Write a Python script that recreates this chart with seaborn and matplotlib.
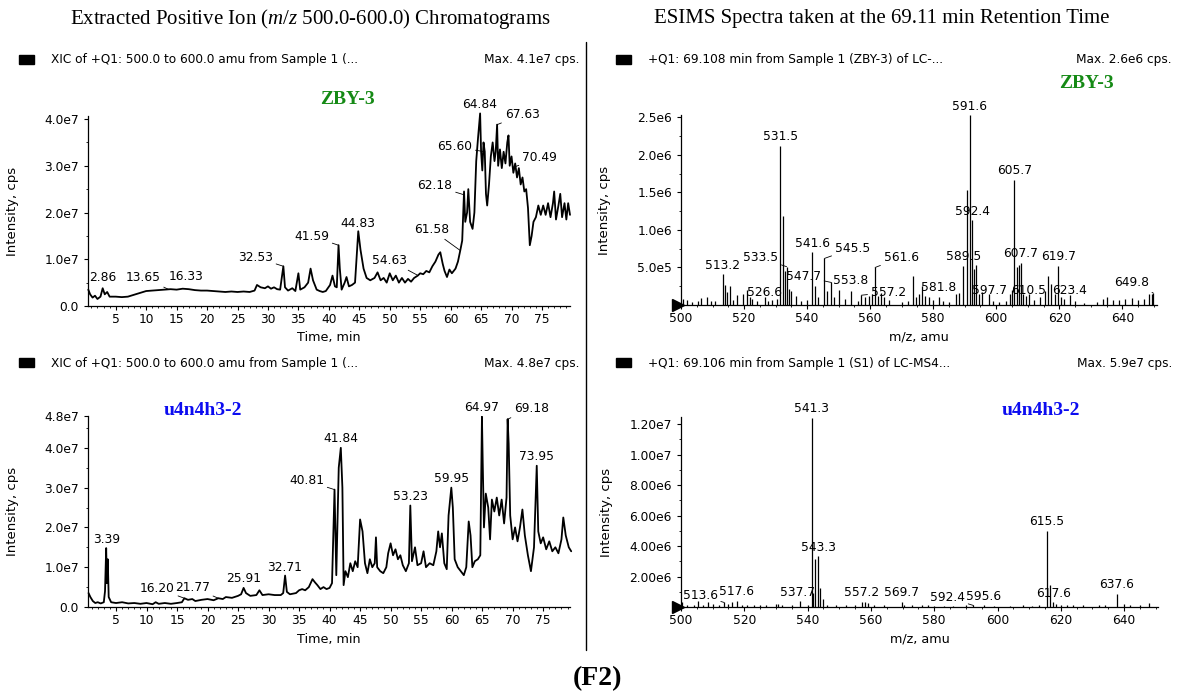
import numpy as np
import seaborn as sns
import matplotlib.pyplot as plt
from matplotlib.patches import Rectangle
from matplotlib.lines import Line2D
from matplotlib.ticker import MultipleLocator

# ---- data ----
# ZBY-3 XIC (time in min, intensity in 1e7 cps)
zby_time = [0.5, 0.8, 1.2, 1.6, 2.0, 2.5, 2.86, 3.2, 3.6, 4.0,
            5, 6, 7, 8, 9, 10, 11, 12, 13, 14,
            15, 16, 17, 18, 19, 20, 21, 22, 23, 24,
            25, 26, 27, 27.8, 28.2, 28.8, 29.5, 30, 30.5, 31,
            31.5, 32, 32.53, 32.8, 33.3, 34, 34.5, 35, 35.3, 36,
            36.6, 37, 37.4, 38, 38.5, 39, 39.5, 40.2, 40.6, 41,
            41.3, 41.59, 41.8, 42.1, 42.6, 42.9, 43.3, 43.8, 44.3, 44.83,
            45.2, 45.7, 46.2, 46.8, 47.5, 48, 48.5, 49, 49.5, 50,
            50.5, 51, 51.5, 52, 52.5, 53, 53.5, 54, 54.6, 55,
            55.5, 56, 56.5, 57, 57.5, 58, 58.3, 58.7, 59, 59.4,
            59.8, 60.2, 60.8, 61.2, 61.6, 61.9, 62.2, 62.4, 62.7, 62.9,
            63.2, 63.6, 63.9, 64.2, 64.5, 64.84, 65.0, 65.2, 65.4, 65.6,
            65.8, 66.0, 66.3, 66.6, 66.9, 67.2, 67.4, 67.63, 67.8, 68.1,
            68.4, 68.7, 69.0, 69.3, 69.5, 69.7, 70.0, 70.3, 70.6, 70.9,
            71.2, 71.5, 71.8, 72.1, 72.4, 72.7, 73.0, 73.3, 73.6, 74.0,
            74.4, 74.8, 75.2, 75.6, 76.0, 76.4, 76.8, 77.0, 77.3, 77.7,
            78.0, 78.3, 78.7, 79.0, 79.3, 79.6]
zby_xic = [0.35, 0.25, 0.18, 0.22, 0.15, 0.20, 0.38, 0.25, 0.30, 0.20,
           0.20, 0.19, 0.20, 0.24, 0.28, 0.32, 0.33, 0.34, 0.35, 0.36,
           0.35, 0.37, 0.36, 0.34, 0.33, 0.33, 0.32, 0.31, 0.30, 0.31,
           0.30, 0.31, 0.30, 0.33, 0.45, 0.40, 0.38, 0.42, 0.37, 0.40,
           0.36, 0.35, 0.85, 0.40, 0.33, 0.38, 0.32, 0.70, 0.35, 0.40,
           0.50, 0.80, 0.55, 0.35, 0.32, 0.30, 0.32, 0.45, 0.65, 0.42,
           0.40, 1.30, 0.80, 0.35, 0.50, 0.62, 0.42, 0.45, 0.50, 1.60,
           1.20, 0.80, 0.60, 0.55, 0.60, 0.72, 0.55, 0.60, 0.50, 0.70,
           0.55, 0.65, 0.50, 0.60, 0.50, 0.58, 0.52, 0.60, 0.65, 0.70,
           0.68, 0.75, 0.72, 0.85, 0.95, 1.10, 1.15, 0.90, 0.75, 0.62,
           0.78, 0.70, 0.80, 0.95, 1.20, 1.40, 2.45, 1.80, 2.00, 2.50,
           1.80, 1.65, 2.00, 3.10, 3.60, 4.12, 3.30, 2.90, 3.50, 3.30,
           2.40, 2.15, 2.60, 3.20, 3.50, 3.10, 3.30, 3.88, 3.00, 3.35,
           2.95, 3.30, 3.05, 3.50, 3.65, 3.00, 3.20, 2.85, 3.05, 2.75,
           2.95, 2.60, 2.75, 2.45, 2.50, 2.10, 1.30, 1.50, 1.80, 1.90,
           2.15, 1.95, 2.15, 1.95, 2.20, 1.90, 2.20, 2.45, 1.85, 2.15,
           2.40, 1.90, 2.20, 1.85, 2.20, 1.95]
zby_xic_peaks = ['2.86', '13.65', '16.33', '32.53', '41.59', '44.83', '54.63',
                 '61.58', '62.18', '65.60', '64.84', '67.63', '70.49']

# u4n4h3-2 XIC (time in min, intensity in 1e7 cps)
u4_time = [0.5, 0.8, 1.2, 1.6, 2.0, 2.5, 3.0, 3.2, 3.39, 3.5,
           3.65, 3.8, 4.2, 5, 6, 7, 8, 9, 10, 11,
           11.5, 12, 13, 14, 15, 15.8, 16.2, 16.8, 17.5, 18,
           19, 20, 21, 21.77, 22.5, 23, 24, 25, 25.5, 25.91,
           26.3, 27, 28, 28.5, 29, 30, 31, 32, 32.4, 32.71,
           33, 33.5, 34.5, 35, 35.5, 36, 36.6, 37.2, 37.6, 38,
           38.5, 39, 39.5, 40, 40.4, 40.81, 41.1, 41.5, 41.84, 42.1,
           42.3, 42.6, 43, 43.4, 43.8, 44.2, 44.6, 45, 45.4, 45.8,
           46.2, 46.6, 47.0, 47.4, 47.6, 47.8, 48.3, 48.8, 49.3, 49.6,
           50.0, 50.4, 50.8, 51.2, 51.6, 52.0, 52.5, 53.0, 53.23, 53.5,
           54.0, 54.4, 55.0, 55.4, 55.8, 56.4, 57.0, 57.5, 57.8, 58.1,
           58.4, 58.8, 59.2, 59.5, 59.95, 60.2, 60.5, 61.0, 61.5, 62.0,
           62.4, 62.8, 63.1, 63.4, 63.8, 64.3, 64.7, 64.97, 65.1, 65.3,
           65.6, 66.0, 66.3, 66.6, 67.0, 67.4, 67.8, 68.2, 68.6, 69.0,
           69.18, 69.35, 69.6, 70.0, 70.4, 70.8, 71.2, 71.6, 72.0, 72.5,
           73.0, 73.5, 73.95, 74.2, 74.6, 75.0, 75.5, 76.0, 76.5, 77.0,
           77.5, 78.0, 78.3, 78.7, 79.2, 79.6]
u4_xic = [0.35, 0.25, 0.15, 0.10, 0.12, 0.09, 0.12, 0.40, 1.48, 0.60,
          1.20, 0.25, 0.12, 0.10, 0.12, 0.09, 0.10, 0.08, 0.10, 0.07,
          0.12, 0.08, 0.10, 0.08, 0.10, 0.12, 0.22, 0.18, 0.20, 0.15,
          0.18, 0.20, 0.17, 0.22, 0.20, 0.25, 0.23, 0.28, 0.32, 0.48,
          0.35, 0.28, 0.30, 0.42, 0.30, 0.32, 0.30, 0.30, 0.35, 0.79,
          0.38, 0.32, 0.35, 0.42, 0.45, 0.42, 0.50, 0.70, 0.62, 0.55,
          0.45, 0.50, 0.45, 0.48, 0.60, 2.95, 0.80, 3.50, 4.00, 3.00,
          0.55, 0.90, 0.75, 1.10, 0.90, 1.15, 1.00, 2.20, 1.90, 1.10,
          0.85, 1.20, 1.00, 1.10, 1.75, 1.00, 0.90, 0.85, 1.00, 1.35,
          1.60, 1.30, 1.45, 1.20, 1.30, 1.05, 0.90, 1.10, 2.55, 1.15,
          1.50, 1.05, 1.10, 1.40, 1.00, 1.10, 1.05, 1.40, 1.90, 1.50,
          1.85, 1.10, 0.95, 2.30, 3.00, 2.50, 1.20, 1.00, 0.90, 0.80,
          1.00, 2.15, 1.80, 1.00, 1.15, 1.20, 1.30, 4.78, 3.60, 2.00,
          2.85, 2.50, 1.70, 2.70, 2.40, 2.75, 2.30, 2.70, 2.10, 2.75,
          4.72, 4.10, 2.30, 1.70, 2.00, 1.65, 2.00, 2.45, 1.80, 1.30,
          0.90, 1.50, 3.55, 1.90, 1.60, 1.75, 1.45, 1.65, 1.40, 1.50,
          1.35, 1.70, 2.25, 1.80, 1.50, 1.40]
u4_xic_peaks = ['3.39', '16.20', '21.77', '25.91', '32.71', '40.81', '41.84',
                '53.23', '59.95', '64.97', '69.18', '73.95']

# ZBY-3 spectrum at 69.11 min (m/z, intensity in 1e6 cps)
zby_mz = [500.6, 501.8, 503.5, 505.5, 506.2, 508.2, 509.5, 510.8, 513.2, 513.8,
          514.6, 515.4, 516.5, 517.8, 519.6, 520.8, 521.8, 522.6, 524.0, 526.6,
          527.5, 529.0, 530.5, 531.5, 532.3, 533.0, 533.5, 534.3, 535.0, 536.5,
          538.0, 540.0, 541.6, 542.5, 543.5, 545.5, 546.4, 547.7, 548.6, 550.0,
          552.0, 553.8, 556.0, 557.2, 558.4, 559.5, 560.6, 561.6, 562.5, 563.4,
          564.4, 566.0, 570.0, 572.0, 573.6, 574.6, 575.5, 576.6, 577.4, 578.6,
          580.0, 581.8, 583.0, 585.0, 587.2, 588.2, 589.5, 590.8, 591.6, 592.4,
          593.0, 593.7, 594.5, 595.5, 597.7, 599.0, 601.0, 603.0, 604.5, 605.1,
          605.7, 606.5, 607.2, 607.7, 608.5, 609.5, 610.5, 612.0, 614.0, 615.5,
          616.5, 617.5, 618.5, 619.7, 620.5, 621.5, 623.4, 625.0, 628.0, 632.0,
          634.0, 635.0, 637.0, 639.0, 641.0, 643.0, 645.0, 647.0, 648.5, 649.3,
          649.8]
zby_ms = [0.08, 0.07, 0.04, 0.05, 0.09, 0.11, 0.05, 0.05, 0.41, 0.27,
          0.17, 0.25, 0.06, 0.13, 0.15, 0.20, 0.10, 0.08, 0.05, 0.10,
          0.05, 0.06, 0.08, 2.12, 1.19, 0.45, 0.51, 0.21, 0.18, 0.12,
          0.05, 0.07, 0.70, 0.25, 0.10, 0.62, 0.18, 0.30, 0.10, 0.20,
          0.08, 0.18, 0.05, 0.13, 0.10, 0.12, 0.15, 0.50, 0.12, 0.16,
          0.10, 0.07, 0.04, 0.05, 0.38, 0.10, 0.15, 0.25, 0.12, 0.10,
          0.06, 0.11, 0.05, 0.04, 0.15, 0.16, 0.52, 1.53, 2.53, 1.13,
          0.48, 0.53, 0.15, 0.17, 0.15, 0.05, 0.04, 0.05, 0.15, 0.20,
          1.67, 0.50, 0.53, 0.56, 0.15, 0.12, 0.15, 0.07, 0.10, 0.18,
          0.38, 0.28, 0.15, 0.52, 0.10, 0.08, 0.13, 0.05, 0.03, 0.04,
          0.08, 0.10, 0.06, 0.07, 0.08, 0.09, 0.06, 0.08, 0.14, 0.15,
          0.16]
zby_ms_peaks = ['591.6', '531.5', '605.7', '592.4', '589.5', '541.6', '545.5',
                '513.2', '533.5', '547.7', '553.8', '561.6', '557.2', '581.8',
                '597.7', '607.7', '610.5', '619.7', '623.4', '649.8', '526.6']

# u4n4h3-2 spectrum at 69.11 min (m/z, intensity in 1e6 cps)
u4_mz = [500.4, 502.0, 504.0, 505.4, 507.0, 508.6, 510.0, 512.0, 513.6, 515.0,
         516.0, 517.6, 519.2, 521.0, 523.0, 525.0, 527.0, 530.0, 530.6, 532.0,
         535.0, 537.7, 540.0, 541.3, 541.8, 542.2, 543.3, 544.0, 545.0, 546.0,
         549.0, 552.0, 555.0, 557.2, 558.0, 559.0, 561.0, 564.0, 569.7, 570.5,
         573.0, 576.0, 578.0, 580.0, 583.0, 586.0, 590.0, 592.4, 595.6, 599.0,
         604.0, 608.0, 611.0, 613.0, 615.5, 616.5, 617.6, 618.5, 620.0, 622.0,
         624.0, 627.0, 632.0, 634.0, 637.6, 640.0, 642.0, 645.0, 648.0]
u4_ms = [0.30, 0.15, 0.12, 0.40, 0.15, 0.35, 0.20, 0.15, 0.30, 0.20,
         0.30, 0.40, 0.10, 0.15, 0.12, 0.10, 0.15, 0.20, 0.20, 0.10,
         0.10, 0.38, 0.10, 12.40, 0.90, 3.18, 3.33, 1.25, 0.55, 0.15,
         0.10, 0.10, 0.10, 0.35, 0.30, 0.25, 0.10, 0.10, 0.35, 0.12,
         0.10, 0.10, 0.10, 0.08, 0.08, 0.08, 0.10, 0.10, 0.12, 0.08,
         0.08, 0.10, 0.08, 0.10, 5.00, 1.43, 0.30, 0.20, 0.10, 0.15,
         0.10, 0.10, 0.15, 0.15, 0.88, 0.20, 0.10, 0.10, 0.25]
u4_ms_peaks = ['541.3', '543.3', '615.5', '637.6', '617.6', '513.6', '517.6',
               '537.7', '557.2', '569.7', '592.4', '595.6']

# axis ticks / labels
time_ticks = list(range(5, 80, 5))
mz_ticks = list(range(500, 660, 20))
zby_xic_yticks = [0, 1e7, 2e7, 3e7, 4e7]
zby_xic_ylabels = ['0.0', '1.0e7', '2.0e7', '3.0e7', '4.0e7']
u4_xic_yticks = [0, 1e7, 2e7, 3e7, 4e7, 4.8e7]
u4_xic_ylabels = ['0.0', '1.0e7', '2.0e7', '3.0e7', '4.0e7', '4.8e7']
zby_ms_yticks = [5e5, 1e6, 1.5e6, 2e6, 2.5e6]
zby_ms_ylabels = ['5.0e5', '1.0e6', '1.5e6', '2.0e6', '2.5e6']
u4_ms_yticks = [2e6, 4e6, 6e6, 8e6, 1e7, 1.2e7]
u4_ms_ylabels = ['2.00e6', '4.00e6', '6.00e6', '8.00e6', '1.00e7', '1.20e7']

# ---- styling ----
sns.set_style('ticks', {'axes.edgecolor': 'black', 'xtick.color': 'black', 'ytick.color': 'black',
                        'text.color': 'black', 'axes.labelcolor': 'black'})
plt.rcParams['font.family'] = ['DejaVu Sans']
plt.rcParams['mathtext.fontset'] = 'custom'
plt.rcParams['mathtext.rm'] = 'Liberation Serif'
plt.rcParams['mathtext.it'] = 'Liberation Serif:italic'

W, H = 1192, 698
fig = plt.figure(figsize=(W / 100, H / 100), dpi=100)
green, blue = '#158a15', '#0c0cf0'
small = 8.8


def px_axes(left, top, right, bottom):
    return fig.add_axes([left / W, 1 - bottom / H, (right - left) / W, (bottom - top) / H])


def style_axes(ax, xlabel, ylab_x):
    sns.despine(ax=ax)
    for s in ['left', 'bottom']:
        ax.spines[s].set_linewidth(0.9)
    ax.tick_params(which='major', direction='out', length=3, width=0.8, pad=2, labelsize=small)
    ax.tick_params(axis='y', pad=3.5)
    ax.tick_params(which='minor', direction='out', length=1.6, width=0.6)
    ax.set_xlabel(xlabel, fontsize=9.2, labelpad=4)
    ax.set_ylabel('Intensity, cps', fontsize=9.5)
    ax.yaxis.set_label_coords(ylab_x, 0.5)  # right edge of the rotated label


def label_peaks(ax, xs, ys, names, offsets):
    for x, y, name in zip(xs, ys, names):
        dx, dy, lead = offsets.get(name, (0, 9, False))
        ax.annotate(name, xy=(x, y), xytext=(dx, dy), textcoords='offset pixels', ha='center', va='center',
                    fontsize=small, annotation_clip=False,
                    arrowprops=dict(arrowstyle='-', lw=0.6, color='black', shrinkA=0, shrinkB=0) if lead else None)


def header(y, left_x, text, right_x, maxtext):
    fig.add_artist(Rectangle(((left_x - 32) / W, 1 - (y + 4) / H), 15 / W, 9 / H, color='black', transform=fig.transFigure))
    fig.text(left_x / W, 1 - y / H, text, fontsize=8.7, va='center')
    fig.text(right_x / W, 1 - y / H, maxtext, fontsize=8.7, va='center', ha='right')


# ---- top left: ZBY-3 chromatogram ----
ax = px_axes(88, 116, 570, 306)
sns.lineplot(x=zby_time, y=np.array(zby_xic) * 1e7, ax=ax, color='black', lw=1.3)
ax.lines[0].set_clip_on(False)
ax.set_xlim(0.45, 79.6)
ax.set_ylim(0, 4.065e7)
ax.set_xticks(time_ticks)
ax.xaxis.set_minor_locator(MultipleLocator(1))
ax.set_yticks(zby_xic_yticks, zby_xic_ylabels)
ax.yaxis.set_minor_locator(MultipleLocator(0.5e7))
style_axes(ax, 'Time, min', -0.143)
tl_off = {'2.86': (0, 11, False), '13.65': (-25, 12, True), '16.33': (1, 12, False), '32.53': (-28, 9, True),
          '41.59': (-27, 9, True), '44.83': (0, 8, False), '54.63': (-28, 15, True), '61.58': (-29, 21, True),
          '62.18': (-29, 9, True), '65.60': (-30, 5, True), '67.63': (25, 10, True), '70.49': (25, 9, True)}
pk = [float(p) for p in zby_xic_peaks]
label_peaks(ax, pk, np.interp(pk, zby_time, zby_xic) * 1e7, zby_xic_peaks, tl_off)

# ---- bottom left: u4n4h3-2 chromatogram ----
ax = px_axes(88, 416, 570, 607)
sns.lineplot(x=u4_time, y=np.array(u4_xic) * 1e7, ax=ax, color='black', lw=1.3)
ax.lines[0].set_clip_on(False)
ax.set_xlim(0.41, 79.4)
ax.set_ylim(0, 4.8e7)
ax.set_xticks(time_ticks)
ax.xaxis.set_minor_locator(MultipleLocator(1))
ax.set_yticks(u4_xic_yticks, u4_xic_ylabels)
ax.yaxis.set_minor_locator(MultipleLocator(0.5e7))
style_axes(ax, 'Time, min', -0.143)
bl_off = {'16.20': (-27, 10, True), '21.77': (-26, 11, True), '32.71': (-1, 8, False),
          '40.81': (-28, 9, True), '69.18': (24, 11, True)}
pk = [float(p) for p in u4_xic_peaks]
label_peaks(ax, pk, np.interp(pk, u4_time, u4_xic) * 1e7, u4_xic_peaks, bl_off)

# ---- top right: ZBY-3 spectrum ----
ax = px_axes(681, 115, 1157, 305)
ax.vlines(zby_mz, 0, np.array(zby_ms) * 1e6, color='black', lw=0.9)
ax.set_xlim(500, 651)
ax.set_ylim(0, 2.53e6)
ax.set_xticks(mz_ticks)
ax.xaxis.set_minor_locator(MultipleLocator(5))
ax.set_yticks(zby_ms_yticks, zby_ms_ylabels)
ax.yaxis.set_minor_locator(MultipleLocator(2.5e5))
style_axes(ax, 'm/z, amu', -0.147)
ax.plot([-0.006], [0], transform=ax.transAxes, marker='>', ms=8, color='black', clip_on=False)
tr_off = {'545.5': (28, 10, True), '533.5': (-26, 9, True), '547.7': (-28, 6, True), '553.8': (0, 11, False),
          '561.6': (26, 10, True), '557.2': (27, 3, True), '597.7': (1, 3, False), '610.5': (-1, 3, False),
          '623.4': (0, 5, False), '649.8': (-22, 10, True), '526.6': (0, 5, False)}
h = dict(zip(zby_mz, zby_ms))
pk = [float(p) for p in zby_ms_peaks]
label_peaks(ax, pk, [h[p] * 1e6 for p in pk], zby_ms_peaks, tr_off)

# ---- bottom right: u4n4h3-2 spectrum ----
ax = px_axes(681, 417, 1158, 607)
ax.vlines(u4_mz, 0, np.array(u4_ms) * 1e6, color='black', lw=0.9)
ax.set_xlim(500, 650.7)
ax.set_ylim(0, 1.246e7)
ax.set_xticks(mz_ticks)
ax.xaxis.set_minor_locator(MultipleLocator(5))
ax.set_yticks(u4_ms_yticks, u4_ms_ylabels)
ax.yaxis.set_minor_locator(MultipleLocator(1e6))
style_axes(ax, 'm/z, amu', -0.143)
ax.plot([-0.006], [0], transform=ax.transAxes, marker='>', ms=8, color='black', clip_on=False)
br_off = {'513.6': (-24, 7, True), '537.7': (-3, 9, False), '592.4': (-26, 8, True)}
h = dict(zip(u4_mz, u4_ms))
pk = [float(p) for p in u4_ms_peaks]
label_peaks(ax, pk, [h[p] * 1e6 for p in pk], u4_ms_peaks, br_off)

# ---- headers, sample names, titles ----
header(60, 51, 'XIC of +Q1: 500.0 to 600.0 amu from Sample 1 (...', 579, 'Max. 4.1e7 cps.')
header(60, 648, '+Q1: 69.108 min from Sample 1 (ZBY-3) of LC-...', 1172, 'Max. 2.6e6 cps.')
header(363, 51, 'XIC of +Q1: 500.0 to 600.0 amu from Sample 1 (...', 579, 'Max. 4.8e7 cps.')
header(363, 648, '+Q1: 69.106 min from Sample 1 (S1) of LC-MS4...', 1172, 'Max. 5.9e7 cps.')

name_font = dict(family='Liberation Serif', fontsize=14, fontweight='bold', ha='center', va='center')
fig.text(347 / W, 1 - 99 / H, 'ZBY-3', color=green, **name_font)
fig.text(1086 / W, 1 - 83 / H, 'ZBY-3', color=green, **name_font)
fig.text(203 / W, 1 - 410 / H, 'u4n4h3-2', color=blue, **name_font)
fig.text(1041 / W, 1 - 410 / H, 'u4n4h3-2', color=blue, **name_font)

fig.text(310 / W, 1 - 19 / H, 'Extracted Positive Ion ($\\mathit{m/z}$ 500.0-600.0) Chromatograms',
         family='Liberation Serif', fontsize=15, ha='center', va='center')
fig.text(882 / W, 1 - 19 / H, 'ESIMS Spectra taken at the 69.11 min Retention Time',
         family='Liberation Serif', fontsize=15, ha='center', va='center')
fig.text(597 / W, 1 - 679 / H, '(F2)', family='Liberation Serif', fontsize=20, fontweight='bold', ha='center', va='center')

fig.add_artist(Line2D([586 / W, 586 / W], [1 - 42 / H, 1 - 650 / H], color='black', lw=1.0))

plt.savefig('out.png', dpi=100)
